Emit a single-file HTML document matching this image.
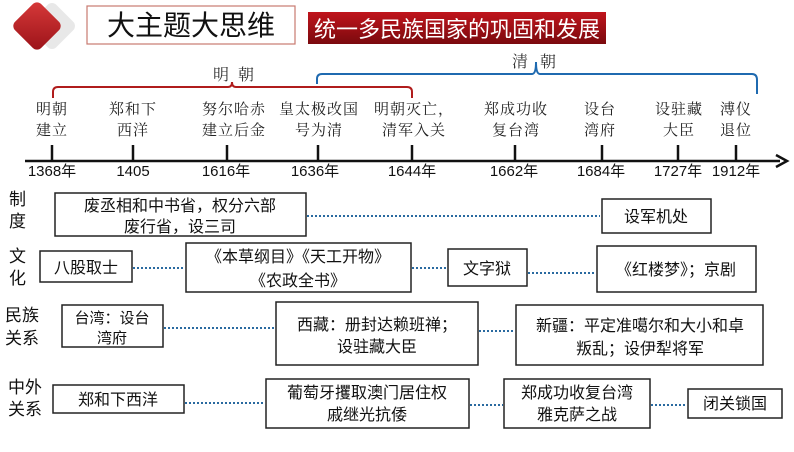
<!DOCTYPE html>
<html><head><meta charset="utf-8"><style>
body{margin:0;background:#fff}
svg text{font-family:"Liberation Sans","Noto Sans CJK SC",sans-serif;fill:#111}
.s{font-family:"Noto Serif CJK SC","Liberation Serif",serif;fill:#222;font-size:15px;letter-spacing:1px}
.b{fill:#fff;stroke:#222;stroke-width:1.5}
.d{stroke:#2a6aa0;stroke-width:2;stroke-dasharray:2 2}
</style></head><body>
<svg width="794" height="447" viewBox="0 0 794 447" xmlns="http://www.w3.org/2000/svg">
<defs><linearGradient id="g" x1="0" y1="0" x2="0" y2="1"><stop offset="0" stop-color="#c0141c"/><stop offset="1" stop-color="#7a0a0e"/></linearGradient>
<linearGradient id="dg" x1="0" y1="0" x2="1" y2="1"><stop offset="0" stop-color="#d83a3a"/><stop offset="1" stop-color="#9a1218"/></linearGradient></defs>
<rect x="34" y="8" width="36" height="36" rx="6" fill="#e8e8e8" transform="rotate(45 52 26)"/>
<rect x="18.5" y="7.5" width="37" height="37" rx="6" fill="url(#dg)" transform="rotate(45 37 26)"/>
<rect x="87" y="6" width="208" height="38" fill="#fff" stroke="#c87a70" stroke-width="1.2"/>
<text x="191" y="35" font-size="28" text-anchor="middle">大主题大思维</text>
<rect x="308" y="12" width="298" height="32" fill="url(#g)"/>
<text x="457" y="37" font-size="22" text-anchor="middle" style="fill:#fff">统一多民族国家的巩固和发展</text>
<path d="M53 98 V92 Q53 87 58 87 H228 Q232 87 232 82 Q232 87 236 87 H407 Q412 87 412 92 V98" fill="none" stroke="#b01c1c" stroke-width="2"/>
<text x="213" y="80" class="s" style="font-size:16px;fill:#333">明</text><text x="238" y="80" class="s" style="font-size:16px;fill:#333">朝</text>
<path d="M317 84 V79 Q317 74 322 74 H532 Q536 74 536 62 Q536 74 540 74 H752 Q757 74 757 80 V94" fill="none" stroke="#1f6ab0" stroke-width="2"/>
<text x="512" y="67" class="s" style="font-size:16px;fill:#333">清</text><text x="540" y="67" class="s" style="font-size:16px;fill:#333">朝</text>
<line x1="25" y1="161" x2="780" y2="161" stroke="#111" stroke-width="2.5"/>
<path d="M776 155 L787 161 L776 167" fill="none" stroke="#111" stroke-width="2.5"/>
<g stroke="#111" stroke-width="2.5">
<line x1="52" y1="145" x2="52" y2="161"/><line x1="133" y1="145" x2="133" y2="161"/><line x1="227" y1="145" x2="227" y2="161"/><line x1="318" y1="145" x2="318" y2="161"/><line x1="412" y1="145" x2="412" y2="161"/><line x1="515" y1="145" x2="515" y2="161"/><line x1="602" y1="145" x2="602" y2="161"/><line x1="678" y1="145" x2="678" y2="161"/><line x1="736" y1="145" x2="736" y2="161"/></g>
<g class="s" text-anchor="middle">
<text x="52" y="114" class="s">明朝</text><text x="52" y="135" class="s">建立</text>
<text x="133" y="114" class="s">郑和下</text><text x="133" y="135" class="s">西洋</text>
<text x="234" y="114" class="s">努尔哈赤</text><text x="234" y="135" class="s">建立后金</text>
<text x="319" y="114" class="s">皇太极改国</text><text x="319" y="135" class="s">号为清</text>
<text x="414" y="114" class="s">明朝灭亡，</text><text x="414" y="135" class="s">清军入关</text>
<text x="516" y="114" class="s">郑成功收</text><text x="516" y="135" class="s">复台湾</text>
<text x="600" y="114" class="s">设台</text><text x="600" y="135" class="s">湾府</text>
<text x="679" y="114" class="s">设驻藏</text><text x="679" y="135" class="s">大臣</text>
<text x="736" y="114" class="s">溥仪</text><text x="736" y="135" class="s">退位</text>
</g>
<g font-size="15" text-anchor="middle">
<text x="52" y="176">1368年</text><text x="133" y="176">1405</text><text x="226" y="176">1616年</text><text x="315" y="176">1636年</text><text x="412" y="176">1644年</text><text x="514" y="176">1662年</text><text x="601" y="176">1684年</text><text x="678" y="176">1727年</text><text x="736" y="176">1912年</text>
</g>
<g font-size="17">
<text x="9" y="205">制</text><text x="9" y="227">度</text>
<text x="9" y="262">文</text><text x="9" y="284">化</text>
<text x="5" y="321">民族</text><text x="5" y="344">关系</text>
<text x="8" y="393">中外</text><text x="8" y="415">关系</text>
</g>
<line class="d" x1="307" y1="216" x2="600" y2="216"/>
<line class="d" x1="133" y1="268" x2="185" y2="268"/>
<line class="d" x1="412" y1="268" x2="447" y2="268"/>
<line class="d" x1="528" y1="273" x2="596" y2="273"/>
<line class="d" x1="164" y1="328" x2="275" y2="328"/>
<line class="d" x1="479" y1="331" x2="515" y2="331"/>
<line class="d" x1="185" y1="403" x2="265" y2="403"/>
<line class="d" x1="470" y1="405" x2="503" y2="405"/>
<line class="d" x1="651" y1="405" x2="687" y2="405"/>
<rect class="b" x="55" y="193" width="251" height="43"/>
<text x="180" y="211" font-size="16" text-anchor="middle">废丞相和中书省，权分六部</text><text x="180" y="232" font-size="16" text-anchor="middle">废行省，设三司</text>
<rect class="b" x="602" y="199" width="109" height="34"/>
<text x="656" y="222" font-size="16" text-anchor="middle">设军机处</text>
<rect class="b" x="40" y="251" width="92" height="31"/>
<text x="86" y="273" font-size="16" text-anchor="middle">八股取士</text>
<rect class="b" x="186" y="243" width="225" height="49"/>
<text x="298" y="262" font-size="16" text-anchor="middle">《本草纲目》《天工开物》</text><text x="298" y="286" font-size="16" text-anchor="middle">《农政全书》</text>
<rect class="b" x="448" y="249" width="79" height="37"/>
<text x="487" y="274" font-size="16" text-anchor="middle">文字狱</text>
<rect class="b" x="597" y="246" width="159" height="46"/>
<text x="676" y="275" font-size="16" text-anchor="middle">《红楼梦》；京剧</text>
<rect class="b" x="62" y="305" width="101" height="42"/>
<text x="112" y="323" font-size="15" text-anchor="middle">台湾：设台</text><text x="112" y="343" font-size="15" text-anchor="middle">湾府</text>
<rect class="b" x="276" y="302" width="202" height="63"/>
<text x="377" y="330" font-size="16" text-anchor="middle">西藏：册封达赖班禅；</text><text x="377" y="352" font-size="16" text-anchor="middle">设驻藏大臣</text>
<rect class="b" x="516" y="305" width="247" height="60"/>
<text x="640" y="331" font-size="16" text-anchor="middle">新疆：平定准噶尔和大小和卓</text><text x="640" y="354" font-size="16" text-anchor="middle">叛乱；设伊犁将军</text>
<rect class="b" x="53" y="385" width="131" height="28"/>
<text x="118" y="405" font-size="16" text-anchor="middle">郑和下西洋</text>
<rect class="b" x="266" y="379" width="203" height="49"/>
<text x="367" y="398" font-size="16" text-anchor="middle">葡萄牙攫取澳门居住权</text><text x="367" y="420" font-size="16" text-anchor="middle">戚继光抗倭</text>
<rect class="b" x="504" y="379" width="146" height="49"/>
<text x="577" y="398" font-size="16" text-anchor="middle">郑成功收复台湾</text><text x="577" y="420" font-size="16" text-anchor="middle">雅克萨之战</text>
<rect class="b" x="688" y="389" width="94" height="29"/>
<text x="735" y="409" font-size="16" text-anchor="middle">闭关锁国</text>
</svg>
</body></html>
